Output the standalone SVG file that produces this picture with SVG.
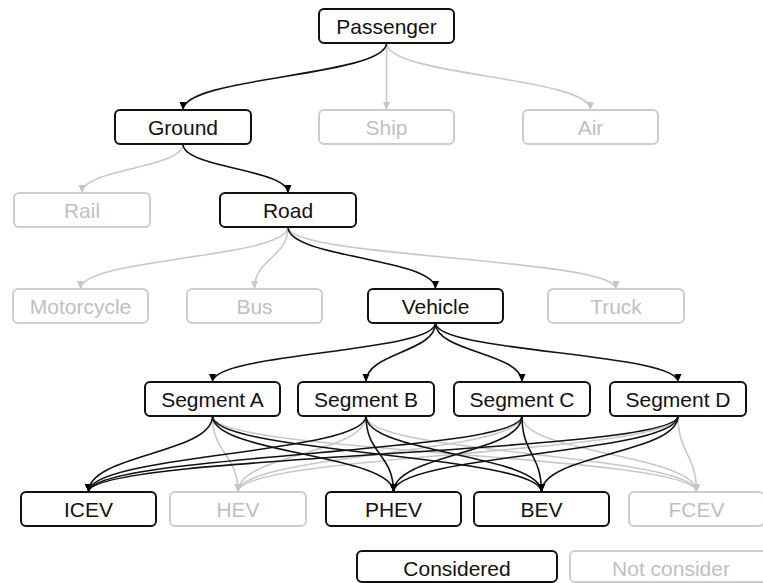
<svg xmlns="http://www.w3.org/2000/svg" width="763" height="583" viewBox="0 0 763 583">
<defs>
<marker id="ah-on" markerUnits="userSpaceOnUse" markerWidth="9" markerHeight="8" refX="8" refY="4" orient="auto"><path d="M0,0.5 L8,4 L0,7.5 Z" fill="#000"/></marker>
<marker id="ah-off" markerUnits="userSpaceOnUse" markerWidth="9" markerHeight="8" refX="8" refY="4" orient="auto"><path d="M0,0.5 L8,4 L0,7.5 Z" fill="#c6c6c6"/></marker>
<style>
.bon{fill:#fff;stroke:#111;stroke-width:2}
.boff{fill:#fff;stroke:#cdcdcd;stroke-width:2}
.t{font-family:"Liberation Sans",Arial,Helvetica,sans-serif;font-size:21px;text-anchor:middle}
.ton{fill:#111}
.toff{fill:#bfbfbf}
.eon{fill:none;stroke:#111;stroke-width:1.6;marker-end:url(#ah-on)}
.eoff{fill:none;stroke:#c8c8c8;stroke-width:1.6;marker-end:url(#ah-off)}
</style>
</defs>
<rect width="763" height="583" fill="#fff"/>
<g id="connectors">
<!-- level 1 -->
<path class="eoff" d="M386.5,43 L386.5,110"/>
<path class="eoff" d="M386.5,43 C386.5,76.5 590.5,76.5 590.5,110"/>
<path class="eon" d="M386.5,43 C386.5,76.5 183,76.5 183,110"/>
<!-- level 2 -->
<path class="eoff" d="M183,144 C183,168.5 82,168.5 82,193"/>
<path class="eon" d="M183,144 C183,168.5 288,168.5 288,193"/>
<!-- level 3 -->
<path class="eoff" d="M288,227 C288,258 80.5,258 80.5,289"/>
<path class="eoff" d="M288,227 C288,258 254.5,258 254.5,289"/>
<path class="eoff" d="M288,227 C288,258 616,258 616,289"/>
<path class="eon" d="M288,227 C288,258 435.5,258 435.5,289"/>
<!-- level 4 -->
<path class="eon" d="M435.5,323 C435.5,352.5 212.5,352.5 212.5,382"/>
<path class="eon" d="M435.5,323 C435.5,352.5 366,352.5 366,382"/>
<path class="eon" d="M435.5,323 C435.5,352.5 522,352.5 522,382"/>
<path class="eon" d="M435.5,323 C435.5,352.5 678,352.5 678,382"/>
<!-- level 5 gray -->
<path class="eoff" d="M212.5,416 C212.5,454 238,454 238,492"/>
<path class="eoff" d="M366,416 C366,454 238,454 238,492"/>
<path class="eoff" d="M522,416 C522,454 238,454 238,492"/>
<path class="eoff" d="M678,416 C678,454 238,454 238,492"/>
<path class="eoff" d="M212.5,416 C212.5,454 696.5,454 696.5,492"/>
<path class="eoff" d="M366,416 C366,454 696.5,454 696.5,492"/>
<path class="eoff" d="M522,416 C522,454 696.5,454 696.5,492"/>
<path class="eoff" d="M678,416 C678,454 696.5,454 696.5,492"/>
<!-- level 5 black -->
<path class="eon" d="M212.5,416 C212.5,454 88.5,454 88.5,492"/>
<path class="eon" d="M366,416 C366,454 88.5,454 88.5,492"/>
<path class="eon" d="M522,416 C522,454 88.5,454 88.5,492"/>
<path class="eon" d="M678,416 C678,454 88.5,454 88.5,492"/>
<path class="eon" d="M212.5,416 C212.5,454 393.5,454 393.5,492"/>
<path class="eon" d="M366,416 C366,454 393.5,454 393.5,492"/>
<path class="eon" d="M522,416 C522,454 393.5,454 393.5,492"/>
<path class="eon" d="M678,416 C678,454 393.5,454 393.5,492"/>
<path class="eon" d="M212.5,416 C212.5,454 541.5,454 541.5,492"/>
<path class="eon" d="M366,416 C366,454 541.5,454 541.5,492"/>
<path class="eon" d="M522,416 C522,454 541.5,454 541.5,492"/>
<path class="eon" d="M678,416 C678,454 541.5,454 541.5,492"/>
</g>
<g id="n-passenger"><rect class="bon" x="319" y="9" width="135" height="34" rx="5"/><text class="t ton" x="386.5" y="34">Passenger</text></g>
<g id="n-ground"><rect class="bon" x="115" y="110" width="136" height="34" rx="5"/><text class="t ton" x="183" y="135">Ground</text></g>
<g id="n-ship"><rect class="boff" x="319" y="110" width="135" height="34" rx="5"/><text class="t toff" x="386.5" y="135">Ship</text></g>
<g id="n-air"><rect class="boff" x="523" y="110" width="135" height="34" rx="5"/><text class="t toff" x="590.5" y="135">Air</text></g>
<g id="n-rail"><rect class="boff" x="14" y="193" width="136" height="34" rx="5"/><text class="t toff" x="82" y="218">Rail</text></g>
<g id="n-road"><rect class="bon" x="220" y="193" width="136" height="34" rx="5"/><text class="t ton" x="288" y="218">Road</text></g>
<g id="n-motorcycle"><rect class="boff" x="13" y="289" width="135" height="34" rx="5"/><text class="t toff" x="80.5" y="314">Motorcycle</text></g>
<g id="n-bus"><rect class="boff" x="187" y="289" width="135" height="34" rx="5"/><text class="t toff" x="254.5" y="314">Bus</text></g>
<g id="n-vehicle"><rect class="bon" x="368" y="289" width="135" height="34" rx="5"/><text class="t ton" x="435.5" y="314">Vehicle</text></g>
<g id="n-truck"><rect class="boff" x="548" y="289" width="136" height="34" rx="5"/><text class="t toff" x="616" y="314">Truck</text></g>
<g id="n-segA"><rect class="bon" x="145" y="382" width="135" height="34" rx="5"/><text class="t ton" x="212.5" y="407">Segment A</text></g>
<g id="n-segB"><rect class="bon" x="298" y="382" width="136" height="34" rx="5"/><text class="t ton" x="366" y="407">Segment B</text></g>
<g id="n-segC"><rect class="bon" x="454" y="382" width="136" height="34" rx="5"/><text class="t ton" x="522" y="407">Segment C</text></g>
<g id="n-segD"><rect class="bon" x="610" y="382" width="136" height="34" rx="5"/><text class="t ton" x="678" y="407">Segment D</text></g>
<g id="n-icev"><rect class="bon" x="21" y="492" width="135" height="34" rx="5"/><text class="t ton" x="88.5" y="517">ICEV</text></g>
<g id="n-hev"><rect class="boff" x="170" y="492" width="136" height="34" rx="5"/><text class="t toff" x="238" y="517">HEV</text></g>
<g id="n-phev"><rect class="bon" x="326" y="492" width="135" height="34" rx="5"/><text class="t ton" x="393.5" y="517">PHEV</text></g>
<g id="n-bev"><rect class="bon" x="474" y="492" width="135" height="34" rx="5"/><text class="t ton" x="541.5" y="517">BEV</text></g>
<g id="n-fcev"><rect class="boff" x="629" y="492" width="135" height="34" rx="5"/><text class="t toff" x="696.5" y="517">FCEV</text></g>
<g id="legend-considered"><rect class="bon" x="357" y="551" width="200" height="31" rx="5"/><text class="t ton" x="457" y="576">Considered</text></g>
<g id="legend-not"><rect class="boff" x="570" y="551" width="202" height="31" rx="5"/><text class="t toff" x="671" y="576">Not consider</text></g>
</svg>
